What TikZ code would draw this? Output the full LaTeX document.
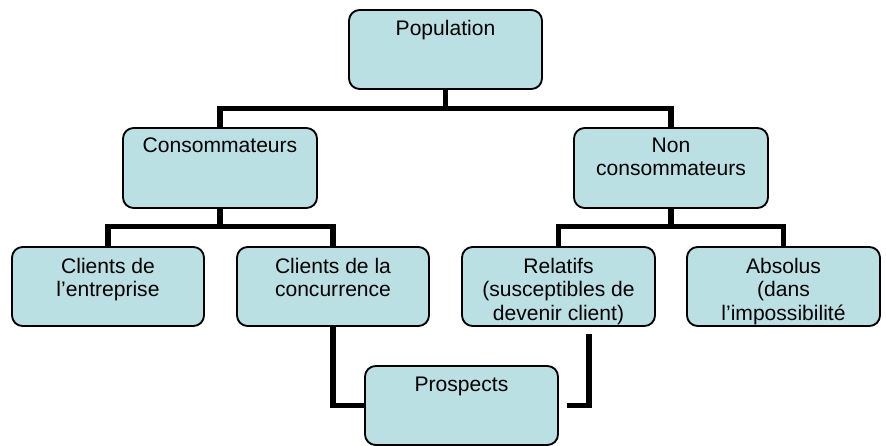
\documentclass[tikz,border=0pt]{standalone}
\usepackage{fontspec}
\setmainfont{Liberation Sans}
\usetikzlibrary{calc,backgrounds}
\definecolor{boxfill}{RGB}{187,224,227}
\tikzset{
  box/.style={draw=black, line width=1.4pt, fill=boxfill, rounded corners=8pt,
    minimum width=#1*0.75pt, minimum height=79*0.75pt, inner sep=0pt},
  box/.default=193,
  txt/.style={font=\fontsize{15.8}{17.6}\selectfont, align=center, inner sep=0pt, anchor=base},
  conn/.style={draw=black, line width=3.8pt}
}
\begin{document}
\begin{tikzpicture}[x=0.75pt,y=-0.75pt]
\useasboundingbox (0,0) rectangle (886,446);
% boxes
\node[box] (pop) at (445.5,49.5) {};
\node[box=194,minimum height=80*0.75pt] (cons) at (220,168) {};
\node[box=194,minimum height=80*0.75pt] (noncons) at (671,168) {};
\node[box=192] (cle) at (108,286.5) {};
\node[box=192] (clc) at (333,286.5) {};
\node[box] (rel) at (558.5,286.5) {};
\node[box] (abs) at (783.5,286.5) {};
\node[box] (pros) at (461.5,405.5) {};
% texts (base anchor = last line's baseline)
\node[txt] (tpop) at ($(pop.north)+(0,26)$) {Population};
\node[txt] (tcons) at ($(cons.north)+(0,25)$) {Consommateurs};
\node[txt] (tnon) at ($(noncons.north)+(0,48.5)$) {Non\\consommateurs};
\node[txt] (tcle) at ($(cle.north)+(0,50.5)$) {Clients de\\l’entreprise};
\node[txt] (tclc) at ($(clc.north)+(0,50.5)$) {Clients de la\\concurrence};
\node[txt] (trel) at ($(rel.north)+(0,74)$) {Relatifs\\(susceptibles de\\devenir client)};
\node[txt] (tabs) at ($(abs.north)+(0,74)$) {Absolus\\(dans\\l’impossibilité};
\node[txt] (tpros) at ($(pros.north)+(0,26)$) {Prospects};
% junctions
\coordinate (j1) at ($(pop.south)+(0,19)$);
\coordinate (j2) at ($(cons.south)+(0,18)$);
\coordinate (j3) at ($(noncons.south)+(0,18)$);
\coordinate (r1) at ($(rel.south)+(30.5,7)$);
\coordinate (r2) at ($(pros.east)+(8,0)$);
\begin{scope}[on background layer]
\draw[conn] (pop.south) -- (j1);
\draw[conn] (cons.north) |- (j1) -| (noncons.north);
\draw[conn] (cons.south) -- (j2);
\draw[conn] (cle.north) |- (j2) -| (clc.north);
\draw[conn] (noncons.south) -- (j3);
\draw[conn] (rel.north) |- (j3) -| (abs.north);
\draw[conn] (clc.south) |- (pros.west);
\draw[conn] (r1) |- (r2);
\end{scope}
\end{tikzpicture}
\end{document}
